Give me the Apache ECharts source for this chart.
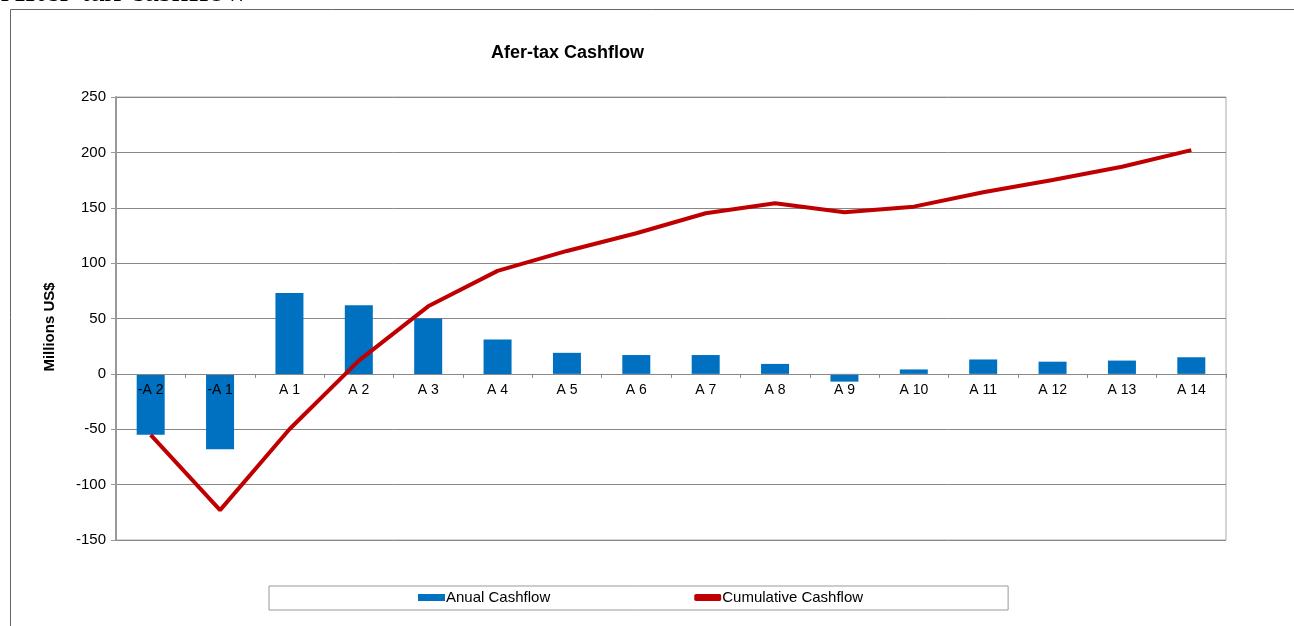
<!DOCTYPE html>
<html>
<head>
<meta charset="utf-8">
<script src="https://cdn.jsdelivr.net/npm/echarts@6/dist/echarts.min.js"></script>
<style>
  html, body { margin: 0; padding: 0; background: #fff; }
  #chart { width: 1294px; height: 626px; }
</style>
</head>
<body>
<div id="chart"></div>
<script>
// periods (two pre-production years, then operating years)
var periods = ['-A 2', '-A 1', 'A 1', 'A 2', 'A 3', 'A 4', 'A 5', 'A 6', 'A 7', 'A 8', 'A 9', 'A 10', 'A 11', 'A 12', 'A 13', 'A 14'];
// yearly cash flow, millions US$
var anualCashflow = [-55, -68, 73, 62, 50, 31, 19, 17, 17, 9, -7, 4, 13, 11, 12, 15];
// running total, millions US$
var cumulativeCashflow = [-55, -123, -50, 12, 61, 93, 111, 127, 145, 154, 146, 151, 164, 175, 187, 202];
var yTicks = { min: -150, max: 250, step: 50 };

var myChart = echarts.init(document.getElementById('chart'));
var font = 'Liberation Sans, Arial, sans-serif';

// grid box in px
var gridTop = 97, gridBottom = 86;
var plotH = 626 - gridTop - gridBottom;
// category axis sits on the zero line (labels too), so shift it up from the bottom
var zeroShift = plotH * (0 - yTicks.min) / (yTicks.max - yTicks.min);

var option = {
    animation: false,
    textStyle: { fontFamily: font },
    graphic: [
        {
            // page heading, cut by the top edge
            type: 'text',
            left: 1,
            top: -24,
            style: { text: 'After-tax cashflow', font: '33px "Liberation Serif", serif', fill: '#000' }
        },
        {
            type: 'polyline',
            shape: { points: [[10.5, 626], [10.5, 9.5], [1294, 9.5]] },
            style: { stroke: '#666', lineWidth: 1, fill: null }
        }
    ],
    title: {
        text: 'Afer-tax Cashflow',
        left: 486,
        top: 39,
        textStyle: { fontSize: 18, fontWeight: 'bold', color: '#000', fontFamily: font }
    },
    legend: {
        left: 269,
        top: 586,
        padding: [4, 145, 5, 149],
        itemGap: 144,
        itemWidth: 27,
        itemHeight: 7,
        borderColor: '#999',
        borderWidth: 1,
        textStyle: { fontSize: 15, color: '#000', padding: [0, 0, 0, -4] },
        data: [
            { name: 'Anual Cashflow', icon: 'rect' },
            { name: 'Cumulative Cashflow', icon: 'roundRect' }
        ]
    },
    grid: {
        left: 116,
        right: 68,
        top: gridTop,
        bottom: gridBottom,
        show: true,
        borderColor: '#aaa',
        borderWidth: 1
    },
    xAxis: {
        type: 'category',
        data: periods,
        z: 5,
        offset: -zeroShift,
        axisLine: { onZero: false, lineStyle: { color: '#888' } },
        axisTick: { show: true, length: 4, lineStyle: { color: '#888' } },
        axisLabel: { color: '#000', fontSize: 14, margin: 9, interval: 0 }
    },
    yAxis: {
        type: 'value',
        min: yTicks.min,
        max: yTicks.max,
        interval: yTicks.step,
        name: 'Millions US$',
        nameLocation: 'middle',
        nameRotate: 90,
        nameGap: 59,
        nameTextStyle: { fontSize: 15, fontWeight: 'bold', color: '#000', padding: [0, 17, 0, 0] },
        axisLine: { show: true, lineStyle: { color: '#999', width: 2 } },
        axisTick: { show: true, length: 5, lineStyle: { color: '#999' } },
        axisLabel: { color: '#000', fontSize: 15, margin: 10 },
        splitLine: { lineStyle: { color: '#888', width: 1 } }
    },
    series: [
        {
            name: 'Anual Cashflow',
            type: 'bar',
            barWidth: 28,
            itemStyle: { color: '#0070C0' },
            data: anualCashflow
        },
        {
            name: 'Cumulative Cashflow',
            type: 'line',
            symbol: 'none',
            z: 6,
            lineStyle: { color: '#C00000', width: 4 },
            itemStyle: { color: '#C00000' },
            data: cumulativeCashflow
        }
    ]
};

myChart.setOption(option);
</script>
</body>
</html>
